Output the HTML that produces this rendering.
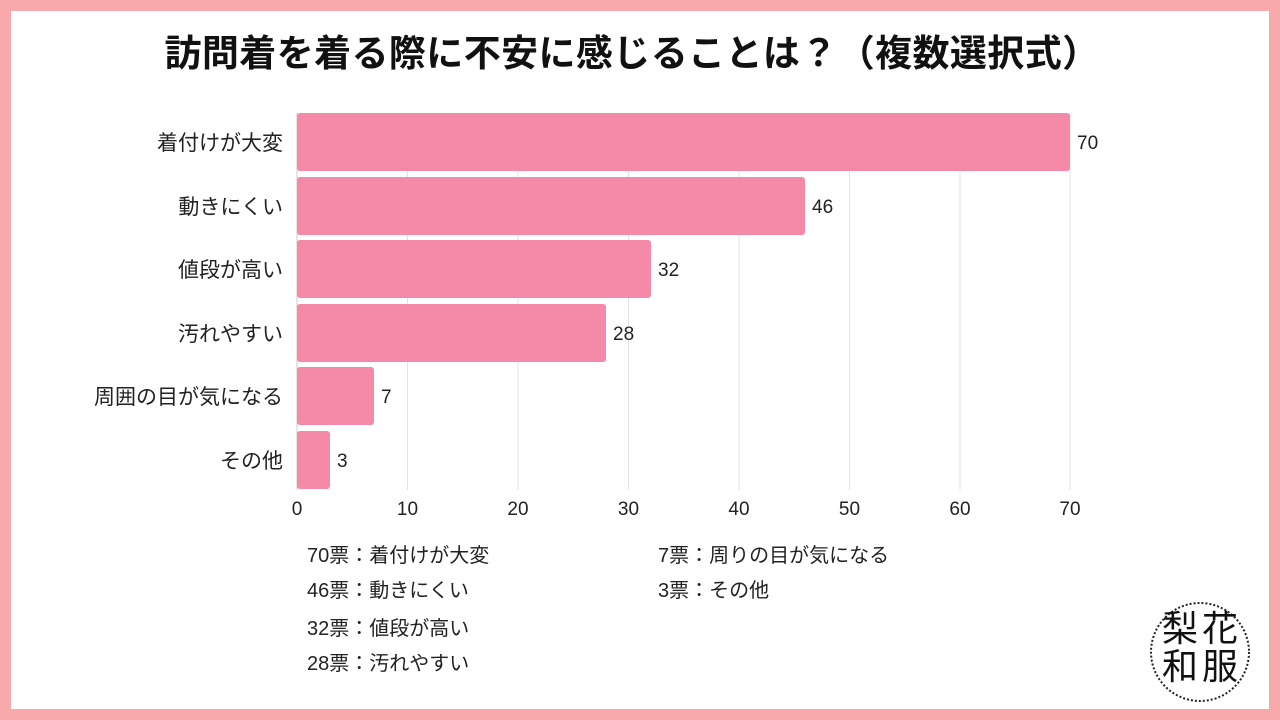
<!DOCTYPE html>
<html><head><meta charset="utf-8"><style>
body{margin:0;width:1280px;height:720px;overflow:hidden;background:#f7a9ac;font-family:"Liberation Sans","Noto Sans CJK JP",sans-serif;}
.page{position:absolute;left:11px;top:11px;width:1258px;height:698px;background:#fff;}
</style></head><body>
<div class="page"></div>
<svg width="1280" height="720" style="position:absolute;left:0;top:0" font-family="Liberation Sans, Noto Sans CJK JP, sans-serif">
<text x="632" y="66" text-anchor="middle" font-size="37" font-weight="bold" fill="#111" letter-spacing="0.4">訪問着を着る際に不安に感じることは？（複数選択式）</text>
<g stroke="#e3e3e3" stroke-width="1">
<line x1="407.5" y1="113" x2="407.5" y2="490"/><line x1="518" y1="113" x2="518" y2="490"/>
<line x1="628.5" y1="113" x2="628.5" y2="490"/><line x1="739" y1="113" x2="739" y2="490"/>
<line x1="849.5" y1="113" x2="849.5" y2="490"/><line x1="960" y1="113" x2="960" y2="490"/>
<line x1="1070" y1="113" x2="1070" y2="490"/>
</g>
<line x1="297" y1="113" x2="297" y2="490" stroke="#ccc"/>
<g fill="#f58aa8">
<rect x="297" y="113" width="773" height="58" rx="3"/>
<rect x="297" y="177" width="508" height="58" rx="3"/>
<rect x="297" y="240" width="354" height="58" rx="3"/>
<rect x="297" y="304" width="309" height="58" rx="3"/>
<rect x="297" y="367" width="77" height="58" rx="3"/>
<rect x="297" y="431" width="33" height="58" rx="3"/>
</g>
<g font-size="21" fill="#222" text-anchor="end">
<text x="283" y="150">着付けが大変</text><text x="283" y="214">動きにくい</text>
<text x="283" y="277">値段が高い</text><text x="283" y="341">汚れやすい</text>
<text x="283" y="404">周囲の目が気になる</text><text x="283" y="468">その他</text>
</g>
<g font-size="19" fill="#222">
<text x="1077" y="149">70</text><text x="812" y="213">46</text><text x="658" y="276">32</text>
<text x="613" y="340">28</text><text x="381" y="403">7</text><text x="337" y="467">3</text>
</g>
<g font-size="19" fill="#222" text-anchor="middle">
<text x="297" y="515">0</text><text x="407.5" y="515">10</text><text x="518" y="515">20</text>
<text x="628.5" y="515">30</text><text x="739" y="515">40</text><text x="849.5" y="515">50</text>
<text x="960" y="515">60</text><text x="1070" y="515">70</text>
</g>
<g font-size="20" fill="#222">
<text x="307" y="562">70票：着付けが大変</text><text x="307" y="597">46票：動きにくい</text>
<text x="307" y="635">32票：値段が高い</text><text x="307" y="670">28票：汚れやすい</text>
<text x="658" y="562">7票：周りの目が気になる</text><text x="658" y="597">3票：その他</text>
</g>
<circle cx="1200" cy="652" r="49" fill="#fff" stroke="#222" stroke-width="2" stroke-dasharray="2 2"/>
<g font-size="36" fill="#111" text-anchor="middle">
<text x="1180" y="641">梨</text><text x="1220" y="641">花</text>
<text x="1180" y="679">和</text><text x="1220" y="679">服</text>
</g>
</svg>
</body></html>
